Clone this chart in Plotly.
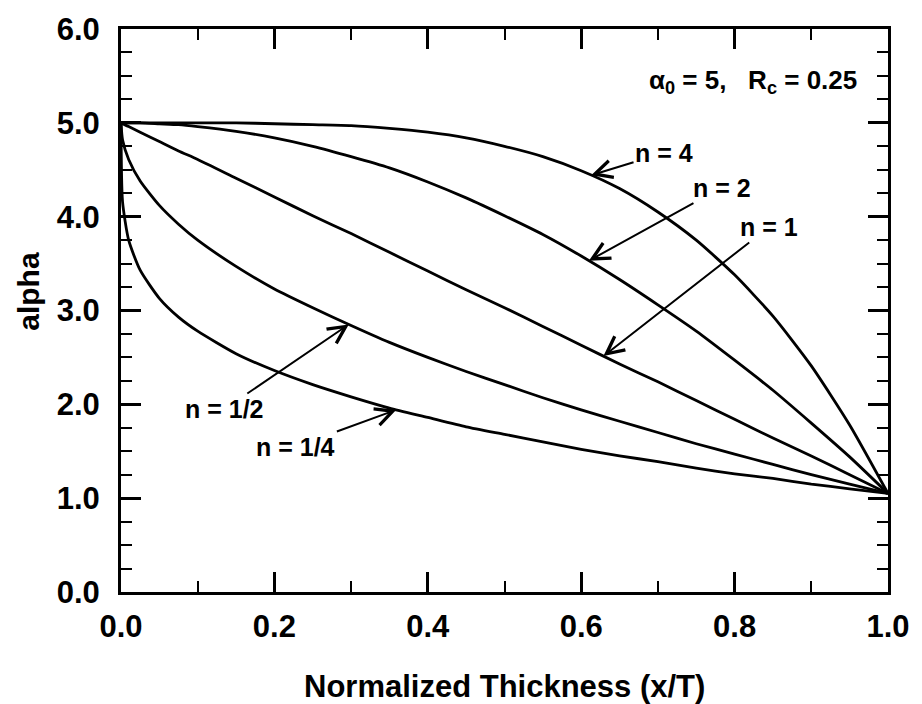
import numpy as np
import plotly.graph_objects as go

x_vals = [0, 0.002, 0.01, 0.025, 0.05, 0.075, 0.1, 0.15, 0.2, 0.25, 0.3, 0.35, 0.4,
          0.45, 0.5, 0.55, 0.6, 0.65, 0.7, 0.75, 0.8, 0.85, 0.9, 0.95, 1.0]

alpha_n4 = [5.00, 5.00, 5.00, 5.00, 5.00, 5.00, 5.00, 5.00, 4.99, 4.98, 4.97, 4.94, 4.90,
            4.84, 4.75, 4.64, 4.49, 4.30, 4.05, 3.75, 3.38, 2.94, 2.41, 1.78, 1.05]
alpha_n2 = [5.00, 5.00, 5.00, 5.00, 4.99, 4.98, 4.96, 4.91, 4.84, 4.75, 4.64, 4.52, 4.37,
            4.20, 4.01, 3.81, 3.58, 3.33, 3.06, 2.78, 2.47, 2.15, 1.80, 1.44, 1.05]
alpha_n1 = [5.00, 4.99, 4.96, 4.90, 4.80, 4.70, 4.61, 4.41, 4.21, 4.01, 3.82, 3.62, 3.42,
            3.22, 3.03, 2.83, 2.63, 2.43, 2.24, 2.04, 1.84, 1.64, 1.45, 1.25, 1.05]
alpha_n12 = [5.00, 4.82, 4.61, 4.38, 4.12, 3.92, 3.75, 3.47, 3.23, 3.03, 2.84, 2.66, 2.50,
             2.35, 2.21, 2.07, 1.94, 1.82, 1.70, 1.58, 1.47, 1.36, 1.25, 1.15, 1.05]
alpha_n14 = [5.00, 4.16, 3.75, 3.43, 3.13, 2.93, 2.78, 2.54, 2.36, 2.21, 2.08, 1.96, 1.86,
             1.76, 1.68, 1.60, 1.52, 1.45, 1.39, 1.32, 1.26, 1.21, 1.15, 1.10, 1.05]

series = [
    ("n = 4", alpha_n4),
    ("n = 2", alpha_n2),
    ("n = 1", alpha_n1),
    ("n = 1/2", alpha_n12),
    ("n = 1/4", alpha_n14),
]

# label placement: (text centre x, text centre y, arrow tip x on curve)
labels = {
    "n = 4": (0.708, 4.68, 0.613),
    "n = 2": (0.783, 4.31, 0.610),
    "n = 1": (0.845, 3.89, 0.629),
    "n = 1/2": (0.135, 1.95, 0.297),
    "n = 1/4": (0.228, 1.55, 0.359),
}

x_ticks = [0.0, 0.2, 0.4, 0.6, 0.8, 1.0]
y_ticks = [0.0, 1.0, 2.0, 3.0, 4.0, 5.0, 6.0]

FONT = "Liberation Sans, Arial, sans-serif"

fig = go.Figure()
for name, vals in series:
    fig.add_trace(go.Scatter(
        x=x_vals, y=vals, mode="lines", name=name,
        line=dict(color="black", width=2.8, shape="spline", smoothing=0.6),
        showlegend=False, hoverinfo="skip",
    ))

annotations = []
for name, vals in series:
    tx, ty, tipx = labels[name]
    tipy = float(np.interp(tipx, x_vals, vals))
    annotations.append(dict(
        x=tipx, y=tipy, xref="x", yref="y", ax=tx, ay=ty, axref="x", ayref="y",
        text=name, showarrow=True, arrowhead=5, arrowsize=1.7, arrowwidth=2,
        arrowcolor="black", standoff=0, borderpad=1,
        font=dict(family=FONT, size=25, color="black", weight="bold"),
    ))

annotations.append(dict(
    x=0.962, y=5.44, xref="x", yref="y", xanchor="right", yanchor="middle",
    text="α<sub>0</sub> = 5,   R<sub>c</sub> = 0.25", showarrow=False,
    font=dict(family=FONT, size=26, color="black", weight="bold"),
))
annotations.append(dict(
    x=0.5, y=-0.168, xref="paper", yref="paper", xanchor="center", yanchor="middle",
    text="Normalized Thickness (x/T)", showarrow=False,
    font=dict(family=FONT, size=31, color="black", weight="bold"),
))
annotations.append(dict(
    x=-0.12, y=0.535, xref="paper", yref="paper", xanchor="center", yanchor="middle",
    text="alpha", showarrow=False, textangle=-90,
    font=dict(family=FONT, size=30, color="black", weight="bold"),
))

axis_common = dict(
    showline=True, linewidth=3, linecolor="black", mirror="ticks",
    ticks="inside", tickwidth=2.5, tickcolor="black", ticklen=20,
    showgrid=False, zeroline=False,
    tickfont=dict(family=FONT, size=31, color="black", weight="bold"),
    tickformat=".1f",
)

fig.update_layout(
    width=922, height=704,
    margin=dict(l=121, r=24, t=22, b=112),
    paper_bgcolor="white", plot_bgcolor="white",
    xaxis=dict(range=[0, 1], tickvals=x_ticks, ticklabelstandoff=5,
               minor=dict(dtick=0.1, ticks="inside", ticklen=11, tickwidth=2, tickcolor="black"),
               **axis_common),
    yaxis=dict(range=[0, 6], tickvals=y_ticks, ticklabelstandoff=12,
               minor=dict(dtick=0.25, ticks="inside", ticklen=11, tickwidth=2, tickcolor="black"),
               **axis_common),
    annotations=annotations,
)

fig.write_html("out.html")
